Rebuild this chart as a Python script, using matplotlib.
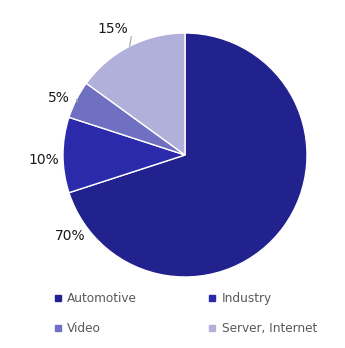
import matplotlib
matplotlib.use("Agg")
import matplotlib.pyplot as plt
from matplotlib.lines import Line2D
import numpy as np

# pie data
labels = ["Automotive", "Industry", "Video", "Server, Internet"]
shares = [70, 10, 5, 15]
colors = ["#22228f", "#2a2aaa", "#7070c2", "#b0b0da"]

# where the percentage labels sit (data units, pie radius = 1)
label_pos = [(-0.94, -0.66), (-1.16, -0.04), (-1.03, 0.47), (-0.59, 1.03)]

fig = plt.figure(figsize=(3.45, 3.48), dpi=100)
W, H = 345, 348
cx, cy, r = 185, 155, 122
ax = fig.add_axes([(cx - r) / W, (H - cy - r) / H, 2 * r / W, 2 * r / H])

wedges, _ = ax.pie(shares, colors=colors, startangle=90, counterclock=False,
                   radius=1, wedgeprops=dict(edgecolor="white", linewidth=1))
ax.set_xlim(-1, 1)
ax.set_ylim(-1, 1)
ax.set_aspect("equal")
ax.axis("off")

for i, s in enumerate(shares):
    tx, ty = label_pos[i]
    ax.text(tx, ty, f"{s}%", ha="center", va="center", fontsize=10,
            color="#1a1a1a", clip_on=False)

# leader lines for the two small labels on top
for i in (2, 3):
    w = wedges[i]
    mid = np.deg2rad((w.theta1 + w.theta2) / 2)
    ex, ey = np.cos(mid), np.sin(mid)
    tx, ty = label_pos[i]
    end = (tx + 0.15, ty - 0.06) if i == 3 else (tx + 0.15, ty - 0.03)
    ax.plot([ex, end[0]], [ey, end[1]], color="#a6a6a6", lw=0.8, clip_on=False)

handles = [Line2D([], [], ls="none", marker="s", markersize=5, color=c) for c in colors]
order = [0, 2, 1, 3]
fig.legend([handles[i] for i in order], [labels[i] for i in order],
           ncol=2, loc="upper left", bbox_to_anchor=(48 / W, 1 - 286 / H),
           frameon=False, fontsize=8.7, labelcolor="#595959",
           handlelength=0.6, handletextpad=0.5, labelspacing=1.4,
           columnspacing=5.9, borderpad=0)

fig.savefig("out.png", dpi=100)
